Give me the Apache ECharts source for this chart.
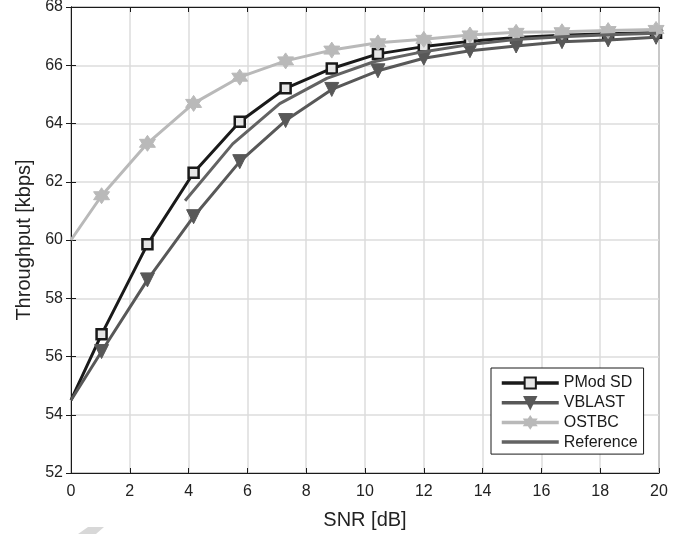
<!DOCTYPE html>
<html><head><meta charset="utf-8">
<script src="https://cdn.jsdelivr.net/npm/echarts@6/dist/echarts.min.js"></script>
<style>html,body{margin:0;padding:0;background:#fff}#c{width:688px;height:534px}</style>
</head><body><div id="c"></div>
<script>
var snr = [0, 1.04, 2.6, 4.17, 5.74, 7.3, 8.87, 10.44, 12.0, 13.57, 15.14, 16.7, 18.27, 19.9];
var pmodSD = [54.5, 56.76, 59.85, 62.31, 64.06, 65.21, 65.89, 66.39, 66.64, 66.82, 66.95, 67.03, 67.08, 67.12];
var vblast = [54.5, 56.17, 58.63, 60.8, 62.69, 64.1, 65.17, 65.81, 66.24, 66.5, 66.66, 66.81, 66.87, 66.96];
var ostbc = [60.0, 61.52, 63.32, 64.69, 65.59, 66.15, 66.52, 66.77, 66.89, 67.04, 67.13, 67.15, 67.19, 67.23];
var refSnr = [3.88, 5.5, 7.1, 8.7, 10.3, 11.9, 13.5, 15.1, 16.7, 18.3, 19.9];
var reference = [61.35, 63.3, 64.68, 65.55, 66.12, 66.45, 66.7, 66.88, 66.98, 67.05, 67.1];
var xTicks = [0, 2, 4, 6, 8, 10, 12, 14, 16, 18, 20];
var yTicks = [52, 54, 56, 58, 60, 62, 64, 66, 68];

// first sample of each marked curve is drawn without a marker
function pairs(xs, ys, hideFirst) {
  return xs.map(function (x, i) {
    var item = { value: [x, ys[i]] };
    if (hideFirst && i === 0) item.symbol = 'none';
    return item;
  });
}
var hexagram = 'path://M10,0 L12.89,5 L18.66,5 L15.77,10 L18.66,15 L12.89,15 L10,20 L7.11,15 L1.34,15 L4.23,10 L1.34,5 L7.11,5 Z';
var font = 'Liberation Sans, Arial, Helvetica, sans-serif';
var chart = echarts.init(document.getElementById('c'));
chart.setOption({
  animation: false,
  grid: { left: 71, right: 29, top: 7, bottom: 61, show: true, borderColor: '#1a1a1a', borderWidth: 1,
          containLabel: false, outerBoundsMode: 'none' },
  xAxis: [{
    type: 'value', min: xTicks[0], max: xTicks[xTicks.length - 1], interval: 2,
    name: 'SNR [dB]', nameLocation: 'middle', nameGap: 37,
    nameTextStyle: { fontFamily: font, fontSize: 20, color: '#222' },
    axisLine: { show: true, lineStyle: { color: '#1a1a1a', width: 1 } },
    axisTick: { show: true, inside: true, length: 5, lineStyle: { color: '#1a1a1a' } },
    axisLabel: { fontFamily: font, fontSize: 16, color: '#222', margin: 11 },
    splitLine: { show: true, lineStyle: { color: '#dcdcdc', width: 1.5 } }
  }, {
    type: 'value', position: 'top', min: 0, max: 20, interval: 2,
    axisLine: { show: true, lineStyle: { color: '#1a1a1a' } },
    axisTick: { show: true, inside: true, length: 5, lineStyle: { color: '#1a1a1a' } },
    axisLabel: { show: false }, splitLine: { show: false }
  }],
  yAxis: [{
    type: 'value', min: yTicks[0], max: yTicks[yTicks.length - 1], interval: 2,
    name: 'Throughput [kbps]', nameLocation: 'middle', nameGap: 37,
    nameTextStyle: { fontFamily: font, fontSize: 20, color: '#222' },
    axisLine: { show: true, lineStyle: { color: '#1a1a1a', width: 1 } },
    axisTick: { show: true, inside: true, length: 5, lineStyle: { color: '#1a1a1a' } },
    axisLabel: { fontFamily: font, fontSize: 16, color: '#222', margin: 8 },
    splitLine: { show: true, lineStyle: { color: '#dcdcdc', width: 1.5 } }
  }, {
    type: 'value', position: 'right', min: 52, max: 68, interval: 2,
    axisLine: { show: true, lineStyle: { color: '#1a1a1a' } },
    axisTick: { show: true, inside: true, length: 5, lineStyle: { color: '#1a1a1a' } },
    axisLabel: { show: false }, splitLine: { show: false }
  }],
  legend: {
    orient: 'vertical', left: 491, top: 368,
    backgroundColor: '#fff', borderColor: '#1a1a1a', borderWidth: 1,
    padding: [7, 6, 4, 9], itemWidth: 57, itemHeight: 14, itemGap: 3.7,
    lineStyle: { width: 3.5 },
    textStyle: { fontFamily: font, fontSize: 16, color: '#1a1a1a' },
    data: ['PMod SD', 'VBLAST', 'OSTBC', 'Reference']
  },
  graphic: [{
    type: 'polygon', silent: true,
    shape: { points: [[78, 534], [88, 527], [104, 527], [96, 534]] },
    style: { fill: '#d8d8d8' }
  }],
  series: [{
    name: 'PMod SD', type: 'line', data: pairs(snr, pmodSD, true),
    symbol: 'rect', symbolSize: 10, showAllSymbol: true,
    lineStyle: { color: '#1a1a1a', width: 3 },
    itemStyle: { color: '#e6e6e6', borderColor: '#1a1a1a', borderWidth: 2.5 },
    z: 3
  }, {
    name: 'VBLAST', type: 'line', data: pairs(snr, vblast, true),
    symbol: 'triangle', symbolRotate: 180, symbolSize: 14, showAllSymbol: true,
    lineStyle: { color: '#585858', width: 3 },
    itemStyle: { color: '#585858', borderColor: '#585858', borderWidth: 1 },
    z: 4
  }, {
    name: 'OSTBC', type: 'line', data: pairs(snr, ostbc, true),
    symbol: hexagram, symbolSize: 16, showAllSymbol: true,
    lineStyle: { color: '#b9b9b9', width: 3 },
    itemStyle: { color: '#b9b9b9', borderColor: '#b9b9b9', borderWidth: 1 },
    z: 5
  }, {
    name: 'Reference', type: 'line', data: pairs(refSnr, reference, false),
    symbol: 'circle', showSymbol: false,
    lineStyle: { color: '#636363', width: 3 },
    itemStyle: { color: 'rgba(0,0,0,0)', borderColor: 'rgba(0,0,0,0)', opacity: 0 },
    z: 6
  }]
});
</script></body></html>
